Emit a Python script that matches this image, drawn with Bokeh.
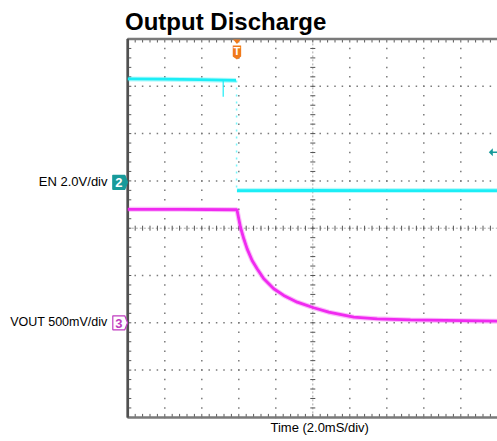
import numpy as np
from bokeh.plotting import figure
from bokeh.models import Range1d
from bokeh.core.properties import value
from bokeh.embed import file_html
from bokeh.resources import INLINE

# ---------------- texts ----------------
TITLE = "Output Discharge"
EN_LABEL = "EN 2.0V/div"
VOUT_LABEL = "VOUT 500mV/div"
TIME_LABEL = "Time  (2.0mS/div)"
EN_CH = "2"
VOUT_CH = "3"
TRIG_MARK = "T"

# ---------------- data (time in ms relative to trigger, volts) ----------------
EN_HIGH_T = [-5.9, -4.0, -2.0, -0.05]
EN_HIGH_V = [4.37, 4.36, 4.34, 4.31]
EN_GLITCH_T = [-0.74, -0.74]
EN_GLITCH_V = [4.34, 3.62]
EN_EDGE_T = [-0.02, -0.02]
EN_EDGE_V = [4.31, -0.35]
EN_LOW_T = [0.0, 4.0, 8.0, 14.1]
EN_LOW_V = [-0.35, -0.34, -0.35, -0.35]
EN_TRIG_LEVEL = 1.27

VOUT_T = [-5.9, -3.0, 0.0, 0.19, 0.37, 0.55, 0.82, 1.09, 1.45, 1.99, 2.53,
          3.26, 4.15, 4.96, 6.32, 7.58, 9.38, 14.1]
VOUT_V = [1.20, 1.20, 1.195, 1.01, 0.888, 0.782, 0.659, 0.571, 0.465, 0.360,
          0.289, 0.218, 0.159, 0.112, 0.059, 0.042, 0.030, 0.017]

# ---------------- scope settings ----------------
T_PER_DIV = 2.0          # ms / div
T_LEFT = -5.9            # ms at left graticule edge
EN_V_PER_DIV = 2.0
EN_OFFSET_DIV = 0.97
VOUT_V_PER_DIV = 0.5
VOUT_OFFSET_DIV = -2.0

# ---------------- layout (page pixels) ----------------
W, H = 497, 441
ORIGIN = 0
GRAT_LEFT_PX = 127.3
CENTER_Y_PX = 227.7
PX_X = 37.0
PX_Y = 47.3

CYAN = "#1CEEF6"
MAGENTA = "#F02AF0"
TEAL = "#179A9A"
MAG_DARK = "#C03CC0"
ORANGE = "#F07A1C"
GRID = "#7A7A7A"
BORDER = "#7A7A7A"
FONT = "Liberation Sans"


def page_t(px):
    return T_LEFT + (px - GRAT_LEFT_PX) / PX_X * T_PER_DIV


def page_y(py):
    return (CENTER_Y_PX - py) / PX_Y


def dxt(px):
    return px / PX_X * T_PER_DIV


def dyd(px):
    return px / PX_Y


XS, XE = page_t(ORIGIN), page_t(ORIGIN + W)
YT, YB = page_y(ORIGIN), page_y(ORIGIN + H)

p = figure(width=W, height=H, output_backend="svg", toolbar_location=None,
           x_range=Range1d(XS, XE), y_range=Range1d(YB, YT),
           min_border=0, min_border_left=0, min_border_right=0,
           min_border_top=0, min_border_bottom=0)
p.axis.visible = False
p.grid.visible = False
p.outline_line_color = None
p.background_fill_color = "white"
p.border_fill_color = "white"
p.extra_y_ranges = {
    "en": Range1d((YB - EN_OFFSET_DIV) * EN_V_PER_DIV, (YT - EN_OFFSET_DIV) * EN_V_PER_DIV),
    "vout": Range1d((YB - VOUT_OFFSET_DIV) * VOUT_V_PER_DIV, (YT - VOUT_OFFSET_DIV) * VOUT_V_PER_DIV),
}

T_RIGHT = T_LEFT + 10 * T_PER_DIV
T_CENTER = T_LEFT + 5 * T_PER_DIV

# ---------------- graticule ----------------
sub_y = np.round(np.arange(-4.0, 4.0001, 0.2), 3)
sub_x = T_LEFT + np.round(np.arange(0, 10.0001, 0.2), 3) * T_PER_DIV

gx, gy = [], []
for k in range(1, 10):
    if k == 5:
        continue
    for yy in sub_y:
        gx.append(T_LEFT + k * T_PER_DIV)
        gy.append(yy)
for j in range(-3, 4):
    if j == 0:
        continue
    for xx in sub_x:
        gx.append(xx)
        gy.append(j)
p.scatter(gx, gy, marker="square", size=1.5, fill_color=GRID, line_color=None)

# center cross
p.segment(x0=[T_LEFT, T_CENTER], y0=[0, -4], x1=[T_RIGHT, T_CENTER], y1=[0, 4],
          line_color="#A8A8A8", line_width=1, line_dash="2 2")
p.scatter(sub_x, [0] * len(sub_x), marker="dash", angle=np.pi / 2, size=5,
          line_color="#555555", line_width=1)
p.scatter([T_CENTER] * len(sub_y), sub_y, marker="dash", size=5,
          line_color="#555555", line_width=1)

# border ticks
p.ray(x=sub_x, y=[4] * len(sub_x), length=3.5, length_units="screen",
      angle=-np.pi / 2, line_color="#5A5A5A", line_width=1)
p.ray(x=sub_x, y=[-4] * len(sub_x), length=3.5, length_units="screen",
      angle=np.pi / 2, line_color="#5A5A5A", line_width=1)
p.ray(x=[T_LEFT] * len(sub_y), y=sub_y, length=3.5, length_units="screen",
      angle=0, line_color="#5A5A5A", line_width=1)

# border
p.line([T_RIGHT + 1, T_LEFT, T_LEFT, T_RIGHT + 1], [4, 4, -4, -4],
       line_color=BORDER, line_width=2.5)
p.line([T_LEFT, T_LEFT], [4, -4], line_color="#505050", line_width=2.5)

# ---------------- traces ----------------
for lw, al in ((5.0, 0.3), (2.8, 1.0)):
    p.line(EN_HIGH_T, EN_HIGH_V, y_range_name="en", line_color=CYAN, line_width=lw, line_alpha=al)
    p.line(EN_LOW_T, EN_LOW_V, y_range_name="en", line_color=CYAN, line_width=lw, line_alpha=al)
    p.line(VOUT_T, VOUT_V, y_range_name="vout", line_color=MAGENTA, line_width=lw, line_alpha=al)
p.line(EN_GLITCH_T, EN_GLITCH_V, y_range_name="en", line_color=CYAN, line_width=1.5, line_alpha=0.8)
p.line(EN_EDGE_T, EN_EDGE_V, y_range_name="en", line_color=CYAN, line_width=1.5,
       line_alpha=0.6, line_dash="2 5")

# ---------------- channel markers ----------------
def ch_marker(y_div, fill, line, txt, txt_color):
    xs = [T_LEFT + dxt(d) for d in (-15.0, -3.0, -0.3, -3.0, -15.0)]
    ys = [y_div + dyd(d) for d in (7.0, 7.0, 0.0, -7.0, -7.0)]
    p.patch(xs, ys, fill_color=fill, line_color=line, line_width=1.2)
    p.text([T_LEFT + dxt(-9.0)], [y_div - dyd(0.5)], text=[txt], text_color=txt_color,
           text_font=value(FONT), text_font_size=value("13px"), text_font_style=value("bold"),
           text_align="center", text_baseline="middle")


ch_marker(EN_OFFSET_DIV, TEAL, TEAL, EN_CH, "white")
ch_marker(VOUT_OFFSET_DIV, "white", MAG_DARK, VOUT_CH, MAG_DARK)

# trigger marker (time = 0)
tri_x = [dxt(-3.8), dxt(3.8), 0.0]
tri_y = [4 - dyd(0.5), 4 - dyd(0.5), 4 - dyd(5.0)]
p.patch(tri_x, tri_y, fill_color=ORANGE, line_color=None)
box_x = [dxt(-4.2), dxt(4.2), dxt(4.2), 0.0, dxt(-4.2)]
box_y = [4 - dyd(6.5), 4 - dyd(6.5), 4 - dyd(17.5), 4 - dyd(20.5), 4 - dyd(17.5)]
p.patch(box_x, box_y, fill_color=ORANGE, line_color=None)
p.text([0.0], [4 - dyd(12.3)], text=[TRIG_MARK], text_color="white",
       text_font=value(FONT), text_font_size=value("11px"), text_font_style=value("bold"),
       text_align="center", text_baseline="middle")

# trigger level arrow (right edge)
trig_div = EN_OFFSET_DIV + EN_TRIG_LEVEL / EN_V_PER_DIV
p.patch([T_RIGHT - dxt(9), T_RIGHT - dxt(5), T_RIGHT - dxt(5)],
        [trig_div, trig_div + dyd(4), trig_div - dyd(4)], fill_color=TEAL, line_color=None)
p.segment(x0=[T_RIGHT - dxt(6)], y0=[trig_div], x1=[T_RIGHT + dxt(2)], y1=[trig_div],
          line_color=TEAL, line_width=1.5)

# ---------------- texts (top-aligned at the reference glyph tops) ----------------
p.text([page_t(124.5)], [page_y(7.5)], text=[TITLE], text_color="black",
       text_font=value(FONT), text_font_size=value("24px"), text_font_style=value("bold"),
       text_align="left", text_baseline="top")
p.text([page_t(107)], [page_y(173)], text=[EN_LABEL], text_color="black",
       text_font=value(FONT), text_font_size=value("13px"),
       text_align="right", text_baseline="top")
p.text([page_t(107)], [page_y(314.5)], text=[VOUT_LABEL], text_color="black",
       text_font=value(FONT), text_font_size=value("12.5px"),
       text_align="right", text_baseline="top")
p.text([page_t(321)], [page_y(419.5)], text=[TIME_LABEL], text_color="black",
       text_font=value(FONT), text_font_size=value("13px"),
       text_align="center", text_baseline="top")

open("out.html", "w").write(file_html(p, INLINE))
